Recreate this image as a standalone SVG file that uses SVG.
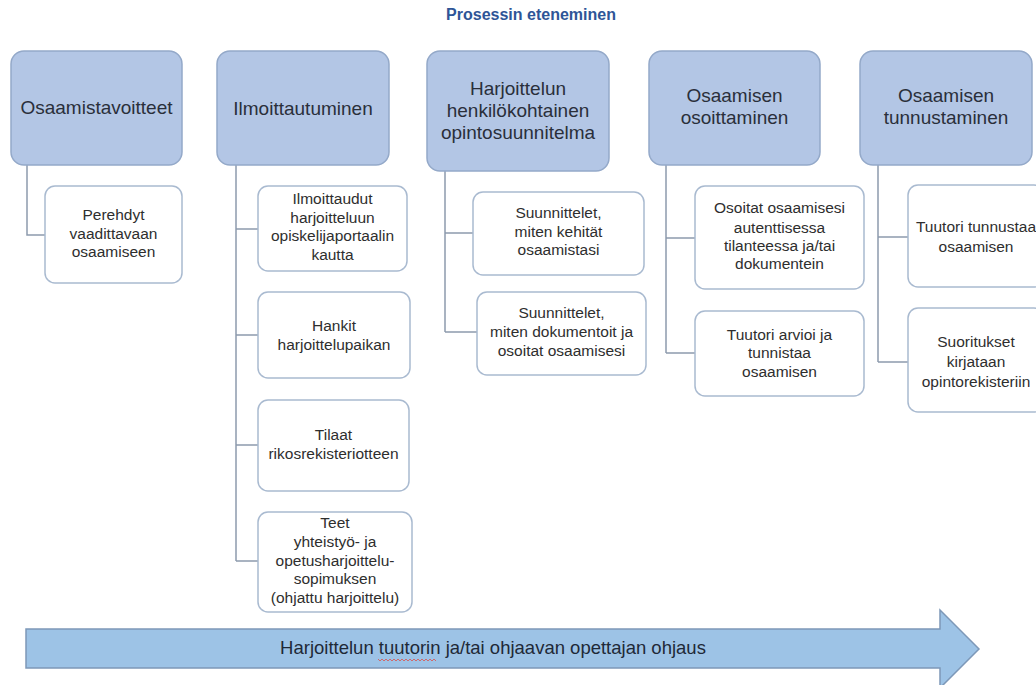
<svg xmlns="http://www.w3.org/2000/svg" width="1036" height="685" viewBox="0 0 1036 685">
<style>
.bg{fill:#ffffff}
.parent{fill:#B3C6E5;stroke:#94A9C9;stroke-width:1.5}
.child{fill:#ffffff;stroke:#A9BAD0;stroke-width:1.5}
.conn{fill:none;stroke:#8D9BAD;stroke-width:1.5}
.pt{font-family:"Liberation Sans",Arial,sans-serif;font-size:19px;fill:#2A2F3A;text-anchor:middle}
.ct{font-family:"Liberation Sans",Arial,sans-serif;font-size:15.5px;fill:#2E2E2E;text-anchor:middle}
.title{font-family:"Liberation Sans",Arial,sans-serif;font-size:16px;font-weight:bold;fill:#2E5597;text-anchor:middle}
.arrow{fill:#9DC3E6;stroke:#7D98B8;stroke-width:1.5}
.at{font-family:"Liberation Sans",Arial,sans-serif;font-size:18.5px;fill:#1F2937;text-anchor:middle}
</style>
<rect class="bg" x="0" y="0" width="1036" height="685"/>
<text class="title" x="531" y="20">Prosessin eteneminen</text>

<g id="connectors">
<path class="conn" d="M27,165 V235 H45"/>
<path class="conn" d="M236,165 V561 M236,229 H258 M236,335 H258 M236,445 H258 M236,561 H258"/>
<path class="conn" d="M445,171 V332 M445,233 H473 M445,332 H477"/>
<path class="conn" d="M666,165 V353 M666,238 H695 M666,353 H695"/>
<path class="conn" d="M878,165 V362 M878,237 H908 M878,362 H908"/>
</g>

<g id="p1"><rect class="parent" x="11" y="51" width="171" height="114" rx="13"/>
<text class="pt" x="96.5" y="114">Osaamistavoitteet</text></g>
<g id="p2"><rect class="parent" x="217" y="51" width="172" height="114" rx="13"/>
<text class="pt" x="303" y="115">Ilmoittautuminen</text></g>
<g id="p3"><rect class="parent" x="427" y="51" width="182" height="120" rx="13"/>
<text class="pt" x="518" y="95">Harjoittelun</text>
<text class="pt" x="518" y="117">henkilökohtainen</text>
<text class="pt" x="518" y="139">opintosuunnitelma</text></g>
<g id="p4"><rect class="parent" x="649" y="51" width="171" height="114" rx="13"/>
<text class="pt" x="734.5" y="102">Osaamisen</text>
<text class="pt" x="734.5" y="124">osoittaminen</text></g>
<g id="p5"><rect class="parent" x="860" y="51" width="172" height="114" rx="13"/>
<text class="pt" x="946" y="102">Osaamisen</text>
<text class="pt" x="946" y="124">tunnustaminen</text></g>

<g id="c1"><rect class="child" x="45" y="186" width="137" height="97" rx="10"/>
<text class="ct" x="113.5" y="220">Perehdyt</text>
<text class="ct" x="113.5" y="239">vaadittavaan</text>
<text class="ct" x="113.5" y="257">osaamiseen</text></g>

<g id="c2a"><rect class="child" x="258" y="186" width="149" height="85" rx="10"/>
<text class="ct" x="332.5" y="204">Ilmoittaudut</text>
<text class="ct" x="332.5" y="223">harjoitteluun</text>
<text class="ct" x="332.5" y="241">opiskelijaportaalin</text>
<text class="ct" x="332.5" y="260">kautta</text></g>
<g id="c2b"><rect class="child" x="258" y="292" width="152" height="86" rx="10"/>
<text class="ct" x="334" y="331">Hankit</text>
<text class="ct" x="334" y="350">harjoittelupaikan</text></g>
<g id="c2c"><rect class="child" x="258" y="400" width="151" height="91" rx="10"/>
<text class="ct" x="333.5" y="440">Tilaat</text>
<text class="ct" x="333.5" y="459">rikosrekisteriotteen</text></g>
<g id="c2d"><rect class="child" x="258" y="512" width="154" height="100" rx="10"/>
<text class="ct" x="335" y="528">Teet</text>
<text class="ct" x="335" y="547">yhteistyö- ja</text>
<text class="ct" x="335" y="566">opetusharjoittelu-</text>
<text class="ct" x="335" y="584">sopimuksen</text>
<text class="ct" x="335" y="603">(ohjattu harjoittelu)</text></g>

<g id="c3a"><rect class="child" x="473" y="192" width="171" height="83" rx="10"/>
<text class="ct" x="558.5" y="218">Suunnittelet,</text>
<text class="ct" x="558.5" y="237">miten kehität</text>
<text class="ct" x="558.5" y="255">osaamistasi</text></g>
<g id="c3b"><rect class="child" x="477" y="292" width="169" height="83" rx="10"/>
<text class="ct" x="561.5" y="318">Suunnittelet,</text>
<text class="ct" x="561.5" y="337">miten dokumentoit ja</text>
<text class="ct" x="561.5" y="356">osoitat osaamisesi</text></g>

<g id="c4a"><rect class="child" x="695" y="186" width="169" height="103" rx="10"/>
<text class="ct" x="779.5" y="213">Osoitat osaamisesi</text>
<text class="ct" x="779.5" y="233">autenttisessa</text>
<text class="ct" x="779.5" y="251">tilanteessa ja/tai</text>
<text class="ct" x="779.5" y="269">dokumentein</text></g>
<g id="c4b"><rect class="child" x="695" y="311" width="169" height="85" rx="10"/>
<text class="ct" x="779.5" y="340">Tuutori arvioi ja</text>
<text class="ct" x="779.5" y="358">tunnistaa</text>
<text class="ct" x="779.5" y="377">osaamisen</text></g>

<g id="c5a"><rect class="child" x="908" y="185" width="136" height="102" rx="10"/>
<text class="ct" x="976" y="232">Tuutori tunnustaa</text>
<text class="ct" x="976" y="252">osaamisen</text></g>
<g id="c5b"><rect class="child" x="908" y="308" width="136" height="104" rx="10"/>
<text class="ct" x="976" y="347">Suoritukset</text>
<text class="ct" x="976" y="367">kirjataan</text>
<text class="ct" x="976" y="387">opintorekisteriin</text></g>

<g id="arrow">
<path class="arrow" d="M26,629 H940 V610 L979,649 L940,688 V668 H26 Z"/>
<text class="at" x="493" y="654">Harjoittelun tuutorin ja/tai ohjaavan opettajan ohjaus</text>
<path d="M378,659 l2,2 l2,-2 l2,2 l2,-2 l2,2 l2,-2 l2,2 l2,-2 l2,2 l2,-2 l2,2 l2,-2 l2,2 l2,-2 l2,2 l2,-2 l2,2 l2,-2 l2,2 l2,-2 l2,2 l2,-2 l2,2 l2,-2 l2,2 l2,-2 l2,2 l2,-2 l2,2" fill="none" stroke="#D9534F" stroke-width="0.8"/>
</g>
</svg>
